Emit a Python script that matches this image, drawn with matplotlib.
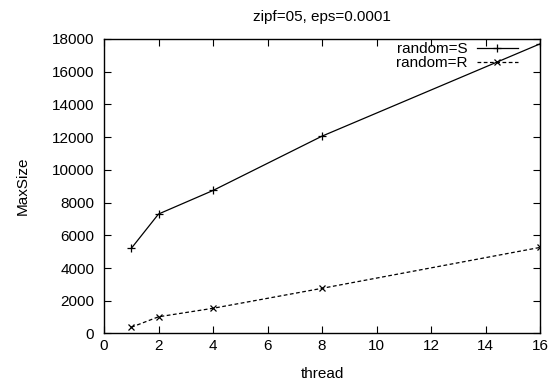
import matplotlib
matplotlib.use("Agg")
import matplotlib.pyplot as plt

plt.rcParams['font.family'] = ['Liberation Sans', 'DejaVu Sans']

# data
threads = [1, 2, 4, 8, 16]
size_s = [5200, 7300, 8740, 12060, 17700]
size_r = [380, 1020, 1540, 2760, 5260]

xticks = [0, 2, 4, 6, 8, 10, 12, 14, 16]
yticks = [0, 2000, 4000, 6000, 8000, 10000, 12000, 14000, 16000, 18000]

fig = plt.figure(figsize=(5.55, 3.85), dpi=100)
ax = fig.add_axes([0.1874, 0.1338, 0.7856, 0.765])

ax.plot(threads, size_s, color='black', lw=0.9, marker='+', ms=6, mew=0.9,
        label='random=S')
ax.plot(threads, size_r, color='black', lw=0.9, ls=(0, (3, 2)), marker='x',
        ms=4.5, mew=0.9, label='random=R')

ax.set_xlim(0, 16)
ax.set_ylim(0, 18000)
ax.set_xticks(xticks)
ax.set_yticks(yticks)
ax.tick_params(direction='in', length=5, width=0.8, top=True, right=True,
               labelsize=11)
ax.tick_params(axis='x', pad=4)
ax.tick_params(axis='y', pad=7)
for sp in ax.spines.values():
    sp.set_linewidth(1.0)

ax.set_xlabel('thread', fontsize=11, labelpad=10)
ax.set_ylabel('MaxSize', fontsize=11, labelpad=16)
ax.set_title('zipf=05, eps=0.0001', fontsize=11, pad=13)

ax.legend(loc='upper right', frameon=False, markerfirst=False, fontsize=11,
          numpoints=1, handlelength=2.7, handletextpad=0.6, labelspacing=0.0,
          borderaxespad=0.0, bbox_to_anchor=(0.963, 1.01))

fig.savefig('out.png', dpi=100)
